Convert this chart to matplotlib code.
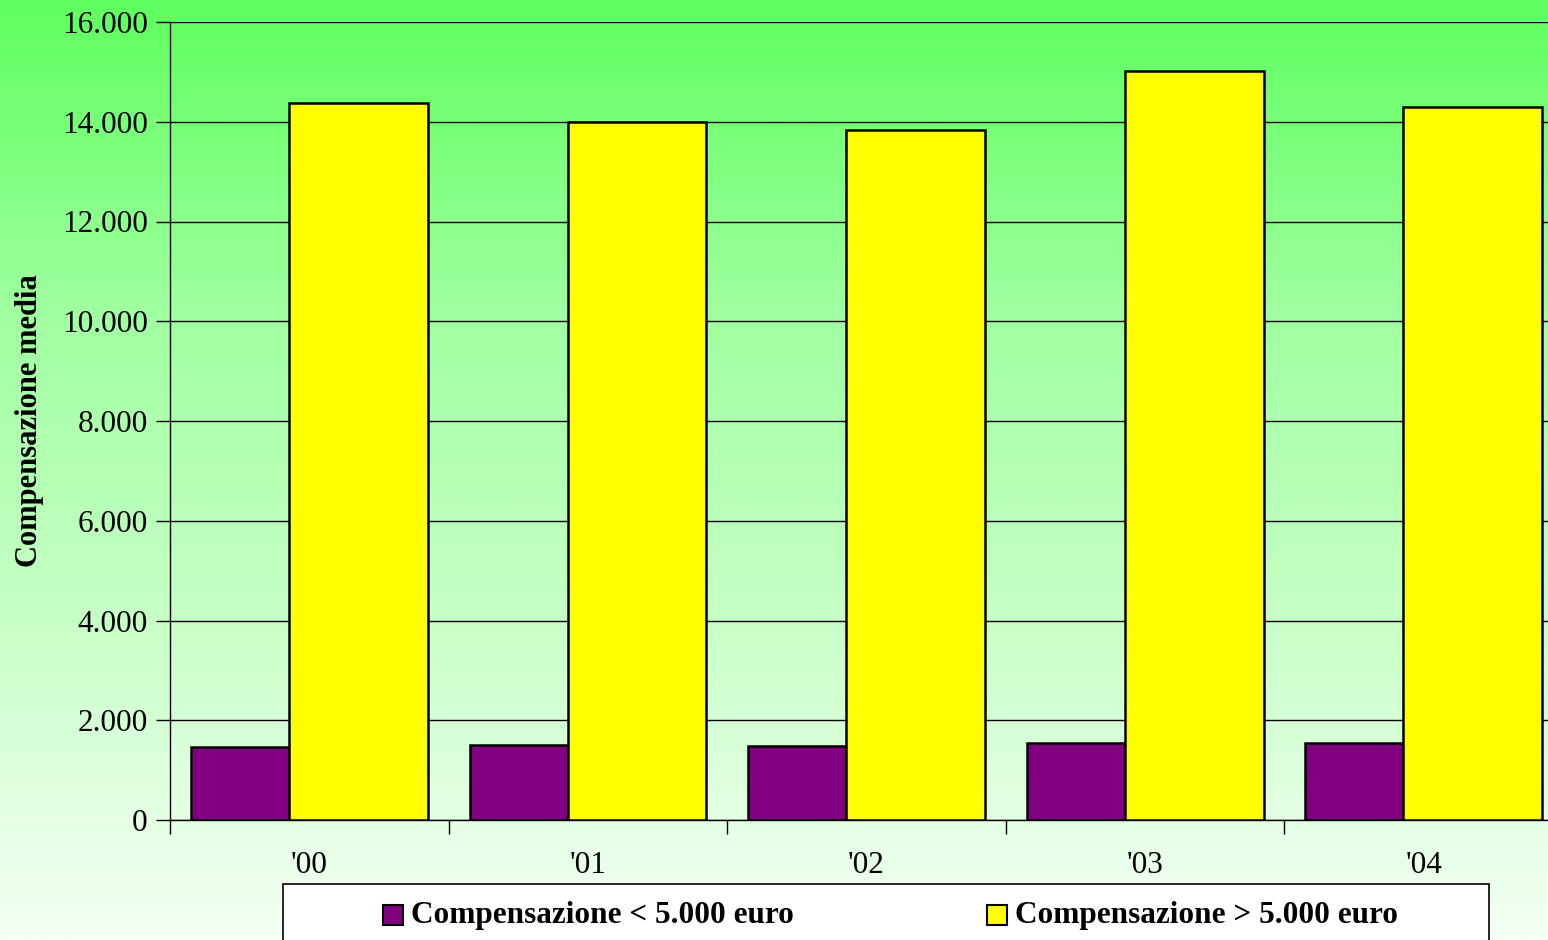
import numpy as np
import matplotlib
matplotlib.use("Agg")
import matplotlib.pyplot as plt
from matplotlib.patches import Rectangle
from matplotlib.colors import LinearSegmentedColormap

categories = ["'00", "'01", "'02", "'03", "'04"]
small = [1460, 1500, 1480, 1540, 1540]
large = [14380, 14000, 13840, 15020, 14300]
series_names = ["Compensazione < 5.000 euro", "Compensazione > 5.000 euro"]
yticks = [0, 2000, 4000, 6000, 8000, 10000, 12000, 14000, 16000]
ytick_labels = ["0", "2.000", "4.000", "6.000", "8.000", "10.000", "12.000", "14.000", "16.000"]

plt.rcParams['font.family'] = ['Liberation Serif', 'DejaVu Serif']

W, H = 1548, 940
fig = plt.figure(figsize=(W / 100, H / 100), dpi=100)

# gradient background
bg = fig.add_axes([0, 0, 1, 1], zorder=-10)
cmap = LinearSegmentedColormap.from_list("g", ["#f5fff5", "#c8ffc8", "#a0ffa0", "#5fff5f"])
grad = np.linspace(0, 1, 512).reshape(-1, 1)
bg.imshow(grad, aspect='auto', cmap=cmap, origin='lower', extent=[0, 1, 0, 1])
bg.set_axis_off()

left = 170 / W
right = 1563 / W
bottom = 1 - 820 / H
top = 1 - 22 / H
ax = fig.add_axes([left, bottom, right - left, top - bottom])
ax.patch.set_alpha(0)

n = len(categories)
x = np.arange(n)
w = 0.4985
p_start = x + 0.0754
y_start = x + 0.427
ax.bar(p_start, small, width=w, align='edge', color='#800080', edgecolor='black', linewidth=1.8, zorder=3)
ax.bar(y_start, large, width=w, align='edge', color='#ffff00', edgecolor='black', linewidth=1.8, zorder=4)

ax.set_xlim(0, n)
ax.set_ylim(0, 16000)
ax.set_yticks(yticks)
ax.set_yticklabels(ytick_labels, fontsize=22.5)
ax.yaxis.grid(True, color='black', linewidth=1.0, zorder=1)
ax.set_axisbelow(True)

ax.set_xticks(np.arange(n + 1))
ax.set_xticklabels([])
ax.set_xticks(x + 0.5, minor=True)
ax.set_xticklabels(categories, minor=True, fontsize=22.5)
ax.tick_params(axis='x', which='major', length=10, width=1, direction='out', color='black')
ax.tick_params(axis='x', which='minor', length=0, pad=22)
ax.tick_params(axis='y', length=10, width=1, direction='out', pad=6)

for s in ['top', 'right']:
    ax.spines[s].set_visible(False)
ax.spines['left'].set_linewidth(1)
ax.spines['bottom'].set_linewidth(1)

fig.text(30 / W, 1 - 421 / H, "Compensazione media", rotation=90, ha='center', va='center',
         fontsize=22, fontweight='bold')

# legend box
fig.patches.append(Rectangle((283 / W, -0.05), (1489 - 283) / W, 0.05 + (940 - 884) / H,
                             transform=fig.transFigure, facecolor='white', edgecolor='black',
                             linewidth=1.2, zorder=5))
colors = ['#800080', '#ffff00']
xs = [383, 987]
for name, c, xp in zip(series_names, colors, xs):
    fig.patches.append(Rectangle((xp / W, 1 - 925 / H), 20 / W, 20 / H, transform=fig.transFigure,
                                 facecolor=c, edgecolor='black', linewidth=1.5, zorder=6))
    fig.text((xp + 28) / W, 1 - 916 / H, name, ha='left', va='center', fontsize=22.5,
             fontweight='bold', zorder=7)

fig.savefig("out.png", dpi=100)
